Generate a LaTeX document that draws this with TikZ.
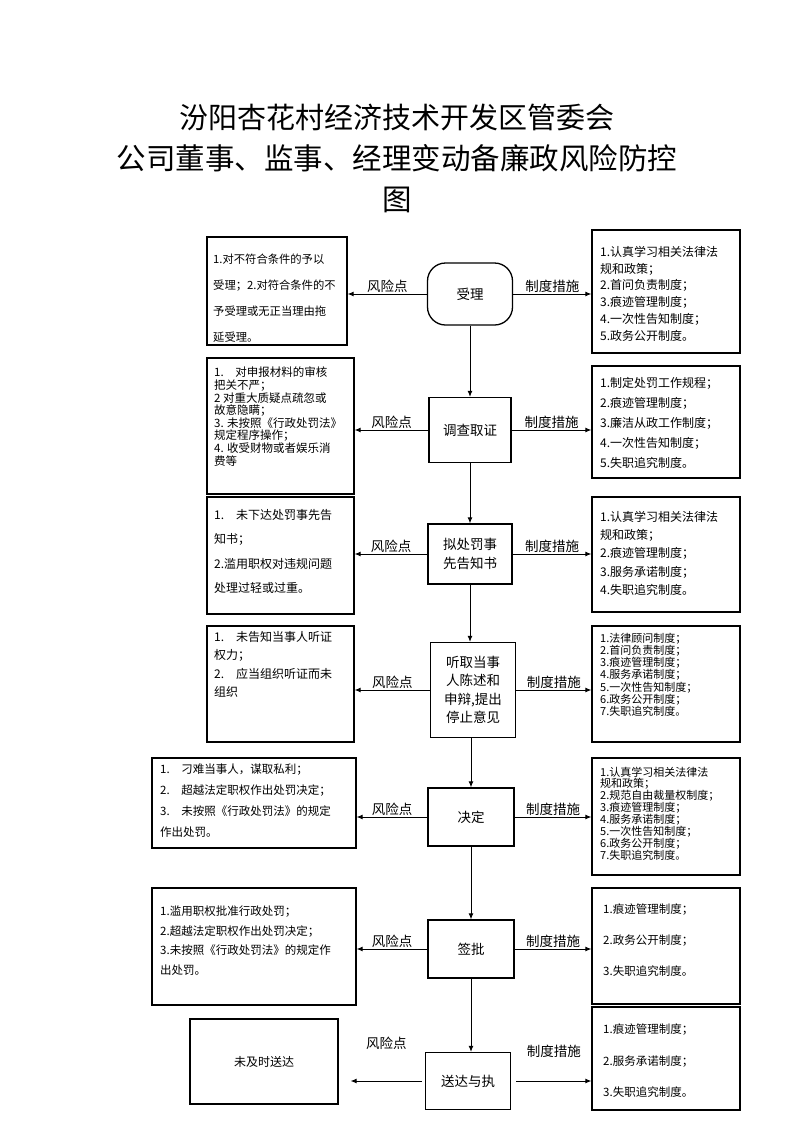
\documentclass[tikz,border=0pt]{standalone}
\usepackage{fontspec}
\setmainfont{Noto Sans CJK SC}
\usetikzlibrary{arrows.meta}
\newcommand{\setfs}[2]{\fontsize{#1}{#2}\selectfont}

\begin{document}
\begin{tikzpicture}
	[x=1pt, y=-1pt,
	proc/.style = {draw, line width=1.3pt, align=center, inner sep=0pt, font=\setfs{13.5}{18.5}},
	box/.style = {draw, line width=1.3pt, inner sep=0pt},
	txt/.style = {anchor=north west, align=left, inner sep=0pt},
	lab/.style = {inner sep=1pt, font=\setfs{13.5}{16}},
	arr/.style = {-{Latex[length=6pt,width=5pt]}, line width=0.9pt}]
	\useasboundingbox (0,0) rectangle (793,1122);
	% title
	\node (t1) at (397,117) {\setfs{29}{32}汾阳杏花村经济技术开发区管委会};
	\node (t2) at (397,158) {\setfs{29.5}{34}公司董事、监事、经理变动备廉政风险防控};
	\node (t3) at (397,200) {\setfs{29.5}{34}图};
	% main steps
	\node[proc, rounded corners=18pt, minimum width=85pt, minimum height=62pt] (p1) at (470,294) {受理};
	\node[proc, minimum width=82pt, minimum height=65pt] (p2) at (470,430) {调查取证};
	\node[proc, minimum width=84pt, minimum height=60pt] (p3) at (470,554) {拟处罚事\\先告知书};
	\node[proc, minimum width=85pt, minimum height=95pt] (p4) at (473,690) {听取当事\\人陈述和\\申辩,提出\\停止意见};
	\node[proc, minimum width=86pt, minimum height=58pt] (p5) at (471,817) {决定};
	\node[proc, minimum width=86pt, minimum height=58pt] (p6) at (471,949) {签批};
	\node[proc, minimum width=85pt, minimum height=57pt] (p7) at (468,1081) {送达与执};
	% risk boxes
	\node[box, minimum width=140pt, minimum height=108pt] (l1) at (277,291) {};
	\node[box, minimum width=147pt, minimum height=136pt] (l2) at (280.5,426) {};
	\node[box, minimum width=147pt, minimum height=117pt] (l3) at (280.5,555.5) {};
	\node[box, minimum width=147pt, minimum height=116pt] (l4) at (280.5,684) {};
	\node[box, minimum width=204pt, minimum height=90pt] (l5) at (254,803) {};
	\node[box, minimum width=204pt, minimum height=117pt] (l6) at (254,946.5) {};
	\node[box, minimum width=148pt, minimum height=85pt] (l7) at (264,1061.5) {\setfs{12}{14}未及时送达};
	% measure boxes
	\node[box, minimum width=148pt, minimum height=123pt] (r1) at (666,291.5) {};
	\node[box, minimum width=148pt, minimum height=112pt] (r2) at (666,422) {};
	\node[box, minimum width=148pt, minimum height=115pt] (r3) at (666,554.5) {};
	\node[box, minimum width=148pt, minimum height=116pt] (r4) at (666,684) {};
	\node[box, minimum width=148pt, minimum height=117pt] (r5) at (666,816.5) {};
	\node[box, minimum width=148pt, minimum height=116pt] (r6) at (666,946) {};
	\node[box, minimum width=148pt, minimum height=103pt] (r7) at (666,1058.5) {};
	% box texts
	\node[txt, font=\setfs{11.3}{26}] (l1t) at (213,254) {1.对不符合条件的予以\\受理；2.对符合条件的不\\予受理或无正当理由拖\\延受理。};
	\node[txt, font=\setfs{11.5}{12.6}] (l2t) at (214,367) {1.\quad 对申报材料的审核\\把关不严；\\2 对重大质疑点疏忽或\\故意隐瞒；\\3. 未按照《行政处罚法》\\规定程序操作；\\4. 收受财物或者娱乐消\\费等};
	\node[txt, font=\setfs{12}{24.5}] (l3t) at (214,509) {1.\quad 未下达处罚事先告\\知书；\\2.滥用职权对违规问题\\处理过轻或过重。};
	\node[txt, font=\setfs{12}{18.5}] (l4t) at (214,631) {1.\quad 未告知当事人听证\\权力；\\2.\quad 应当组织听证而未\\组织};
	\node[txt, font=\setfs{11.5}{21}] (l5t) at (160,764) {1.\quad 刁难当事人，谋取私利；\\2.\quad 超越法定职权作出处罚决定；\\3.\quad 未按照《行政处罚法》的规定\\作出处罚。};
	\node[txt, font=\setfs{11.5}{19.5}] (l6t) at (160,906) {1.滥用职权批准行政处罚；\\2.超越法定职权作出处罚决定；\\3.未按照《行政处罚法》的规定作\\出处罚。};
	\node[txt, font=\setfs{12}{16.8}] (r1t) at (600,246) {1.认真学习相关法律法\\规和政策；\\2.首问负责制度；\\3.痕迹管理制度；\\4.一次性告知制度；\\5.政务公开制度。};
	\node[txt, font=\setfs{12}{20}] (r2t) at (600,377) {1.制定处罚工作规程；\\2.痕迹管理制度；\\3.廉洁从政工作制度；\\4.一次性告知制度；\\5.失职追究制度。};
	\node[txt, font=\setfs{12}{18.3}] (r3t) at (600,511) {1.认真学习相关法律法\\规和政策；\\2.痕迹管理制度；\\3.服务承诺制度；\\4.失职追究制度。};
	\node[txt, font=\setfs{11}{12.3}] (r4t) at (600,632.5) {1.法律顾问制度；\\2.首问负责制度；\\3.痕迹管理制度；\\4.服务承诺制度；\\5.一次性告知制度；\\6.政务公开制度；\\7.失职追究制度。};
	\node[txt, font=\setfs{11}{11.9}] (r5t) at (600,766.5) {1.认真学习相关法律法\\规和政策；\\2.规范自由裁量权制度；\\3.痕迹管理制度；\\4.服务承诺制度；\\5.一次性告知制度；\\6.政务公开制度；\\7.失职追究制度。};
	\node[txt, font=\setfs{11.5}{31}] (r6t) at (603,904) {1.痕迹管理制度；\\2.政务公开制度；\\3.失职追究制度。};
	\node[txt, font=\setfs{11.5}{31.5}] (r7t) at (603,1024) {1.痕迹管理制度；\\2.服务承诺制度；\\3.失职追究制度。};
	% flow
	\draw[arr] (p1) -- (p2);
	\draw[arr] (p2) -- (p3);
	\draw[arr] (p3.south) -- (p3.south |- p4.north);
	\draw[arr] (p4.south -| p5) -- (p5);
	\draw[arr] (p5) -- (p6);
	\draw[arr] (p6.south) -- (p6.south |- p7.north);
	% risks and measures
	\draw[arr] (p1.west) -- node[lab, above] {风险点} (p1.west -| l1.east);
	\draw[arr] (p1.east) -- node[lab, above] {制度措施} (p1.east -| r1.west);
	\draw[arr] (p2.west) -- node[lab, above] {风险点} (p2.west -| l2.east);
	\draw[arr] (p2.east) -- node[lab, above] {制度措施} (p2.east -| r2.west);
	\draw[arr] (p3.west) -- node[lab, above] {风险点} (p3.west -| l3.east);
	\draw[arr] (p3.east) -- node[lab, above] {制度措施} (p3.east -| r3.west);
	\draw[arr] (p4.west) -- node[lab, above] {风险点} (p4.west -| l4.east);
	\draw[arr] (p4.east) -- node[lab, above] {制度措施} (p4.east -| r4.west);
	\draw[arr] (p5.west) -- node[lab, above] {风险点} (p5.west -| l5.east);
	\draw[arr] (p5.east) -- node[lab, above] {制度措施} (p5.east -| r5.west);
	\draw[arr] (p6.west) -- node[lab, above] {风险点} (p6.west -| l6.east);
	\draw[arr] (p6.east) -- node[lab, above] {制度措施} (p6.east -| r6.west);
	\draw[arr] ([xshift=-3pt]p7.west) -- node[lab, above=30pt] {风险点} ([xshift=12pt]p7.west -| l7.east);
	\draw[arr] ([xshift=5pt]p7.east) -- node[lab, above=22pt] {制度措施} (p7.east -| r7.west);
\end{tikzpicture}
\end{document}
